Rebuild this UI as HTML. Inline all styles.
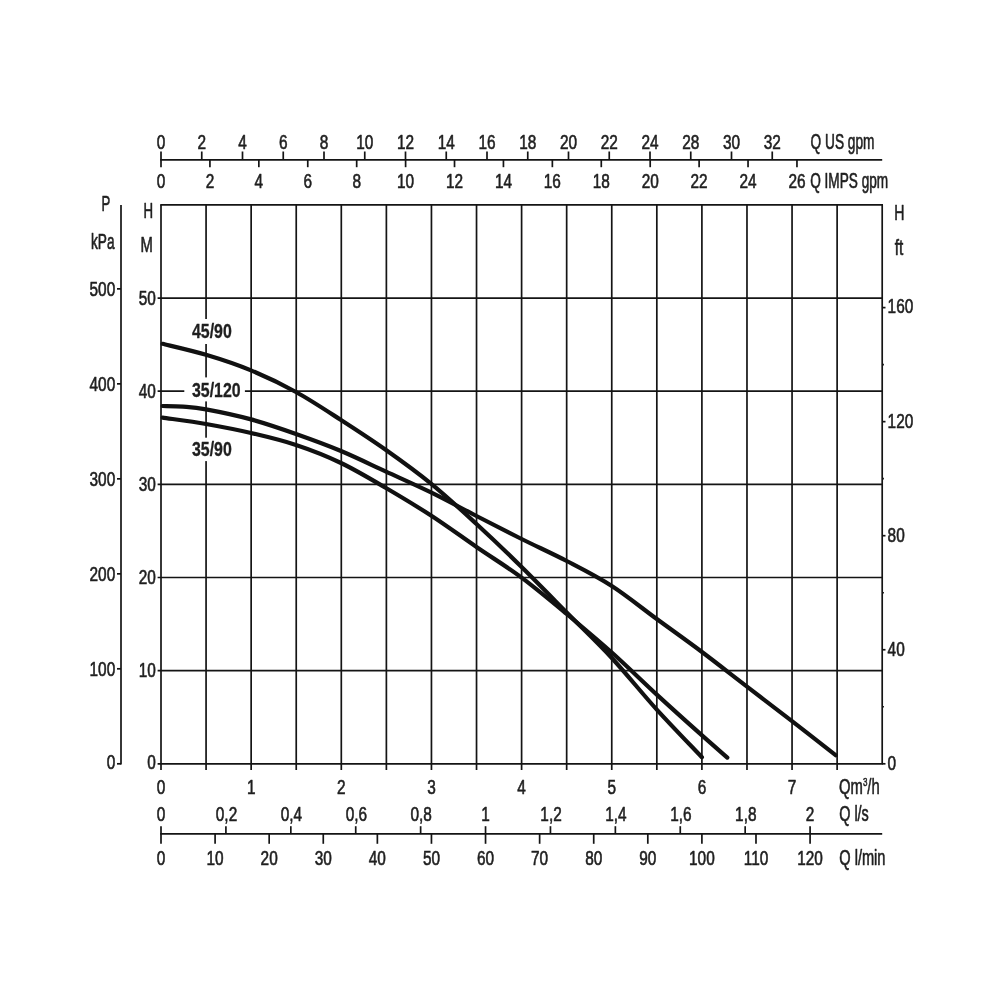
<!DOCTYPE html>
<html><head><meta charset="utf-8"><title>Pump curves</title>
<style>
html,body{margin:0;padding:0;background:#fff}
body{width:1000px;height:1000px;overflow:hidden}
svg{display:block}
text{font-family:"Liberation Sans",sans-serif;fill:#1f1f1f;stroke:#1f1f1f;stroke-width:0.55px;vector-effect:non-scaling-stroke;stroke-linejoin:round}
</style></head><body>
<svg width="1000" height="1000" viewBox="0 0 1000 1000">
<rect width="1000" height="1000" fill="#fff"/>
<line x1="161.00" y1="204.90" x2="161.00" y2="770.00" stroke="#141414" stroke-width="1.7"/>
<line x1="206.07" y1="204.90" x2="206.07" y2="770.00" stroke="#141414" stroke-width="1.7"/>
<line x1="251.15" y1="204.90" x2="251.15" y2="770.00" stroke="#141414" stroke-width="1.7"/>
<line x1="296.23" y1="204.90" x2="296.23" y2="770.00" stroke="#141414" stroke-width="1.7"/>
<line x1="341.30" y1="204.90" x2="341.30" y2="770.00" stroke="#141414" stroke-width="1.7"/>
<line x1="386.38" y1="204.90" x2="386.38" y2="770.00" stroke="#141414" stroke-width="1.7"/>
<line x1="431.45" y1="204.90" x2="431.45" y2="770.00" stroke="#141414" stroke-width="1.7"/>
<line x1="476.53" y1="204.90" x2="476.53" y2="770.00" stroke="#141414" stroke-width="1.7"/>
<line x1="521.60" y1="204.90" x2="521.60" y2="770.00" stroke="#141414" stroke-width="1.7"/>
<line x1="566.67" y1="204.90" x2="566.67" y2="770.00" stroke="#141414" stroke-width="1.7"/>
<line x1="611.75" y1="204.90" x2="611.75" y2="770.00" stroke="#141414" stroke-width="1.7"/>
<line x1="656.83" y1="204.90" x2="656.83" y2="770.00" stroke="#141414" stroke-width="1.7"/>
<line x1="701.90" y1="204.90" x2="701.90" y2="770.00" stroke="#141414" stroke-width="1.7"/>
<line x1="746.98" y1="204.90" x2="746.98" y2="770.00" stroke="#141414" stroke-width="1.7"/>
<line x1="792.05" y1="204.90" x2="792.05" y2="770.00" stroke="#141414" stroke-width="1.7"/>
<line x1="837.12" y1="204.90" x2="837.12" y2="770.00" stroke="#141414" stroke-width="1.7"/>
<line x1="882.20" y1="204.90" x2="882.20" y2="763.80" stroke="#141414" stroke-width="1.7"/>
<line x1="157.60" y1="763.80" x2="883.00" y2="763.80" stroke="#141414" stroke-width="1.7"/>
<line x1="157.60" y1="670.65" x2="882.20" y2="670.65" stroke="#141414" stroke-width="1.7"/>
<line x1="157.60" y1="577.50" x2="882.20" y2="577.50" stroke="#141414" stroke-width="1.7"/>
<line x1="157.60" y1="484.35" x2="882.20" y2="484.35" stroke="#141414" stroke-width="1.7"/>
<line x1="157.60" y1="391.20" x2="882.20" y2="391.20" stroke="#141414" stroke-width="1.7"/>
<line x1="157.60" y1="298.05" x2="882.20" y2="298.05" stroke="#141414" stroke-width="1.7"/>
<line x1="160.20" y1="204.90" x2="883.00" y2="204.90" stroke="#141414" stroke-width="1.7"/>
<line x1="882.20" y1="763.80" x2="885.50" y2="763.80" stroke="#141414" stroke-width="1.7"/>
<line x1="882.20" y1="706.77" x2="883.90" y2="706.77" stroke="#141414" stroke-width="1.7"/>
<line x1="882.20" y1="649.75" x2="885.50" y2="649.75" stroke="#141414" stroke-width="1.7"/>
<line x1="882.20" y1="592.73" x2="883.90" y2="592.73" stroke="#141414" stroke-width="1.7"/>
<line x1="882.20" y1="535.70" x2="885.50" y2="535.70" stroke="#141414" stroke-width="1.7"/>
<line x1="882.20" y1="478.68" x2="883.90" y2="478.68" stroke="#141414" stroke-width="1.7"/>
<line x1="882.20" y1="421.65" x2="885.50" y2="421.65" stroke="#141414" stroke-width="1.7"/>
<line x1="882.20" y1="364.63" x2="883.90" y2="364.63" stroke="#141414" stroke-width="1.7"/>
<line x1="882.20" y1="307.60" x2="885.50" y2="307.60" stroke="#141414" stroke-width="1.7"/>
<line x1="121.00" y1="204.90" x2="121.00" y2="764.60" stroke="#141414" stroke-width="1.7"/>
<line x1="117.00" y1="763.80" x2="121.00" y2="763.80" stroke="#141414" stroke-width="1.7"/>
<line x1="117.00" y1="668.81" x2="121.00" y2="668.81" stroke="#141414" stroke-width="1.7"/>
<line x1="117.00" y1="573.83" x2="121.00" y2="573.83" stroke="#141414" stroke-width="1.7"/>
<line x1="117.00" y1="478.84" x2="121.00" y2="478.84" stroke="#141414" stroke-width="1.7"/>
<line x1="117.00" y1="383.85" x2="121.00" y2="383.85" stroke="#141414" stroke-width="1.7"/>
<line x1="117.00" y1="288.87" x2="121.00" y2="288.87" stroke="#141414" stroke-width="1.7"/>
<rect x="185" y="319" width="52" height="25" fill="#fff"/>
<rect x="184.3" y="377.4" width="60.6" height="24" fill="#fff"/>
<rect x="185" y="437.7" width="52" height="23.4" fill="#fff"/>
<path d="M162.6,343.8 C169.8,345.6 191.3,350.4 206.0,354.8 C220.7,359.2 236.0,364.2 251.0,370.4 C266.0,376.6 281.0,383.7 296.0,392.0 C311.0,400.3 326.0,410.3 341.0,420.0 C356.0,429.7 371.0,439.4 386.0,450.0 C401.0,460.6 415.9,471.3 431.0,483.6 C446.1,495.9 461.4,510.1 476.5,524.0 C491.6,537.9 506.6,552.2 521.6,567.0 C536.6,581.8 551.7,597.3 566.7,612.5 C581.7,627.7 596.8,641.8 611.8,658.0 C626.8,674.2 641.8,693.1 656.8,709.6 C671.8,726.1 694.4,749.3 701.9,757.3" fill="none" stroke="#111" stroke-width="4.2" stroke-linecap="round" stroke-linejoin="round"/>
<path d="M162.6,406.0 C166.0,406.1 175.8,406.0 183.0,406.6 C190.2,407.2 194.7,407.3 206.0,409.4 C217.3,411.5 236.0,415.3 251.0,419.4 C266.0,423.5 281.0,428.7 296.0,434.0 C311.0,439.3 326.0,444.7 341.0,451.0 C356.0,457.3 371.0,464.7 386.0,471.6 C401.0,478.5 415.9,485.0 431.0,492.4 C446.1,499.8 461.4,508.2 476.5,516.0 C491.6,523.8 506.6,531.5 521.6,539.0 C536.6,546.5 551.7,553.2 566.7,561.0 C581.7,568.8 596.8,576.3 611.8,586.0 C626.8,595.7 641.8,608.0 656.8,619.0 C671.8,630.0 687.0,640.7 702.0,652.0 C717.0,663.3 732.0,675.1 747.0,686.6 C762.0,698.1 777.2,709.8 792.0,721.2 C806.8,732.6 828.3,749.5 835.6,755.2" fill="none" stroke="#111" stroke-width="4.2" stroke-linecap="round" stroke-linejoin="round"/>
<path d="M162.6,417.6 C169.8,418.7 191.3,421.4 206.0,424.0 C220.7,426.6 236.0,429.5 251.0,433.0 C266.0,436.5 281.0,440.0 296.0,445.0 C311.0,450.0 326.0,455.8 341.0,463.0 C356.0,470.2 371.0,479.2 386.0,488.0 C401.0,496.8 415.9,505.7 431.0,515.5 C446.1,525.3 461.4,536.6 476.5,547.0 C491.6,557.4 506.6,566.4 521.6,577.6 C536.6,588.8 551.7,601.5 566.7,614.0 C581.7,626.5 596.8,639.1 611.8,652.5 C626.8,665.9 641.8,680.8 656.8,694.6 C671.8,708.4 690.2,724.9 702.0,735.4 C713.8,745.9 723.1,753.9 727.3,757.6" fill="none" stroke="#111" stroke-width="4.2" stroke-linecap="round" stroke-linejoin="round"/>
<text transform="translate(192.00,338.10) scale(0.765,1)" text-anchor="start" font-size="20.8" font-weight="bold" style="stroke-width:0.3px">45/90</text>
<text transform="translate(192.00,396.70) scale(0.765,1)" text-anchor="start" font-size="20.8" font-weight="bold" style="stroke-width:0.3px">35/120</text>
<text transform="translate(192.00,456.00) scale(0.765,1)" text-anchor="start" font-size="20.8" font-weight="bold" style="stroke-width:0.3px">35/90</text>
<line x1="160.20" y1="159.90" x2="882.20" y2="159.90" stroke="#141414" stroke-width="1.7"/>
<line x1="161.00" y1="151.50" x2="161.00" y2="167.20" stroke="#141414" stroke-width="1.7"/>
<text transform="translate(161.00,148.60) scale(0.77,1)" text-anchor="middle" font-size="20">0</text>
<line x1="201.75" y1="151.50" x2="201.75" y2="159.90" stroke="#141414" stroke-width="1.7"/>
<text transform="translate(201.75,148.60) scale(0.77,1)" text-anchor="middle" font-size="20">2</text>
<line x1="242.50" y1="151.50" x2="242.50" y2="159.90" stroke="#141414" stroke-width="1.7"/>
<text transform="translate(242.50,148.60) scale(0.77,1)" text-anchor="middle" font-size="20">4</text>
<line x1="283.25" y1="151.50" x2="283.25" y2="159.90" stroke="#141414" stroke-width="1.7"/>
<text transform="translate(283.25,148.60) scale(0.77,1)" text-anchor="middle" font-size="20">6</text>
<line x1="324.00" y1="151.50" x2="324.00" y2="159.90" stroke="#141414" stroke-width="1.7"/>
<text transform="translate(324.00,148.60) scale(0.77,1)" text-anchor="middle" font-size="20">8</text>
<line x1="364.75" y1="151.50" x2="364.75" y2="159.90" stroke="#141414" stroke-width="1.7"/>
<text transform="translate(364.75,148.60) scale(0.77,1)" text-anchor="middle" font-size="20">10</text>
<line x1="405.50" y1="151.50" x2="405.50" y2="159.90" stroke="#141414" stroke-width="1.7"/>
<text transform="translate(405.50,148.60) scale(0.77,1)" text-anchor="middle" font-size="20">12</text>
<line x1="446.25" y1="151.50" x2="446.25" y2="159.90" stroke="#141414" stroke-width="1.7"/>
<text transform="translate(446.25,148.60) scale(0.77,1)" text-anchor="middle" font-size="20">14</text>
<line x1="487.00" y1="151.50" x2="487.00" y2="159.90" stroke="#141414" stroke-width="1.7"/>
<text transform="translate(487.00,148.60) scale(0.77,1)" text-anchor="middle" font-size="20">16</text>
<line x1="527.75" y1="151.50" x2="527.75" y2="159.90" stroke="#141414" stroke-width="1.7"/>
<text transform="translate(527.75,148.60) scale(0.77,1)" text-anchor="middle" font-size="20">18</text>
<line x1="568.50" y1="151.50" x2="568.50" y2="159.90" stroke="#141414" stroke-width="1.7"/>
<text transform="translate(568.50,148.60) scale(0.77,1)" text-anchor="middle" font-size="20">20</text>
<line x1="609.25" y1="151.50" x2="609.25" y2="159.90" stroke="#141414" stroke-width="1.7"/>
<text transform="translate(609.25,148.60) scale(0.77,1)" text-anchor="middle" font-size="20">22</text>
<line x1="650.00" y1="151.50" x2="650.00" y2="159.90" stroke="#141414" stroke-width="1.7"/>
<text transform="translate(650.00,148.60) scale(0.77,1)" text-anchor="middle" font-size="20">24</text>
<line x1="690.75" y1="151.50" x2="690.75" y2="159.90" stroke="#141414" stroke-width="1.7"/>
<text transform="translate(690.75,148.60) scale(0.77,1)" text-anchor="middle" font-size="20">28</text>
<line x1="731.50" y1="151.50" x2="731.50" y2="159.90" stroke="#141414" stroke-width="1.7"/>
<text transform="translate(731.50,148.60) scale(0.77,1)" text-anchor="middle" font-size="20">30</text>
<line x1="772.25" y1="151.50" x2="772.25" y2="159.90" stroke="#141414" stroke-width="1.7"/>
<text transform="translate(772.25,148.60) scale(0.77,1)" text-anchor="middle" font-size="20">32</text>
<line x1="209.92" y1="159.90" x2="209.92" y2="167.20" stroke="#141414" stroke-width="1.7"/>
<line x1="258.84" y1="159.90" x2="258.84" y2="167.20" stroke="#141414" stroke-width="1.7"/>
<line x1="307.76" y1="159.90" x2="307.76" y2="167.20" stroke="#141414" stroke-width="1.7"/>
<line x1="356.68" y1="159.90" x2="356.68" y2="167.20" stroke="#141414" stroke-width="1.7"/>
<line x1="405.60" y1="159.90" x2="405.60" y2="167.20" stroke="#141414" stroke-width="1.7"/>
<line x1="454.52" y1="159.90" x2="454.52" y2="167.20" stroke="#141414" stroke-width="1.7"/>
<line x1="503.44" y1="159.90" x2="503.44" y2="167.20" stroke="#141414" stroke-width="1.7"/>
<line x1="552.36" y1="159.90" x2="552.36" y2="167.20" stroke="#141414" stroke-width="1.7"/>
<line x1="601.28" y1="159.90" x2="601.28" y2="167.20" stroke="#141414" stroke-width="1.7"/>
<line x1="650.20" y1="159.90" x2="650.20" y2="167.20" stroke="#141414" stroke-width="1.7"/>
<line x1="699.12" y1="159.90" x2="699.12" y2="167.20" stroke="#141414" stroke-width="1.7"/>
<line x1="748.04" y1="159.90" x2="748.04" y2="167.20" stroke="#141414" stroke-width="1.7"/>
<line x1="796.96" y1="159.90" x2="796.96" y2="167.20" stroke="#141414" stroke-width="1.7"/>
<text transform="translate(161.00,188.40) scale(0.77,1)" text-anchor="middle" font-size="20">0</text>
<text transform="translate(209.92,188.40) scale(0.77,1)" text-anchor="middle" font-size="20">2</text>
<text transform="translate(258.84,188.40) scale(0.77,1)" text-anchor="middle" font-size="20">4</text>
<text transform="translate(307.76,188.40) scale(0.77,1)" text-anchor="middle" font-size="20">6</text>
<text transform="translate(356.68,188.40) scale(0.77,1)" text-anchor="middle" font-size="20">8</text>
<text transform="translate(405.60,188.40) scale(0.77,1)" text-anchor="middle" font-size="20">10</text>
<text transform="translate(454.52,188.40) scale(0.77,1)" text-anchor="middle" font-size="20">12</text>
<text transform="translate(503.44,188.40) scale(0.77,1)" text-anchor="middle" font-size="20">14</text>
<text transform="translate(552.36,188.40) scale(0.77,1)" text-anchor="middle" font-size="20">16</text>
<text transform="translate(601.28,188.40) scale(0.77,1)" text-anchor="middle" font-size="20">18</text>
<text transform="translate(650.20,188.40) scale(0.77,1)" text-anchor="middle" font-size="20">20</text>
<text transform="translate(699.12,188.40) scale(0.77,1)" text-anchor="middle" font-size="20">22</text>
<text transform="translate(748.04,188.40) scale(0.77,1)" text-anchor="middle" font-size="20">24</text>
<text transform="translate(796.96,188.40) scale(0.77,1)" text-anchor="middle" font-size="20">26</text>
<text transform="translate(810.60,148.60) scale(0.646,1)" text-anchor="start" font-size="21.2">Q US gpm</text>
<text transform="translate(810.20,188.40) scale(0.643,1)" text-anchor="start" font-size="21.2">Q IMPS gpm</text>
<text transform="translate(101.40,211.00) scale(0.62,1)" text-anchor="start" font-size="21.2">P</text>
<text transform="translate(91.00,249.00) scale(0.645,1)" text-anchor="start" font-size="21.2">kPa</text>
<text transform="translate(143.40,218.20) scale(0.625,1)" text-anchor="start" font-size="21.2">H</text>
<text transform="translate(140.60,252.20) scale(0.7,1)" text-anchor="start" font-size="21.2">M</text>
<text transform="translate(894.20,220.00) scale(0.665,1)" text-anchor="start" font-size="21.2">H</text>
<text transform="translate(894.80,255.40) scale(0.72,1)" text-anchor="start" font-size="21.2">ft</text>
<text transform="translate(115.20,769.10) scale(0.77,1)" text-anchor="end" font-size="20">0</text>
<text transform="translate(115.20,675.71) scale(0.77,1)" text-anchor="end" font-size="20">100</text>
<text transform="translate(115.20,580.73) scale(0.77,1)" text-anchor="end" font-size="20">200</text>
<text transform="translate(115.20,485.74) scale(0.77,1)" text-anchor="end" font-size="20">300</text>
<text transform="translate(115.20,390.75) scale(0.77,1)" text-anchor="end" font-size="20">400</text>
<text transform="translate(115.20,295.77) scale(0.77,1)" text-anchor="end" font-size="20">500</text>
<text transform="translate(155.80,769.20) scale(0.77,1)" text-anchor="end" font-size="20">0</text>
<text transform="translate(155.80,677.15) scale(0.77,1)" text-anchor="end" font-size="20">10</text>
<text transform="translate(155.80,584.00) scale(0.77,1)" text-anchor="end" font-size="20">20</text>
<text transform="translate(155.80,490.85) scale(0.77,1)" text-anchor="end" font-size="20">30</text>
<text transform="translate(155.80,397.70) scale(0.77,1)" text-anchor="end" font-size="20">40</text>
<text transform="translate(155.80,304.55) scale(0.77,1)" text-anchor="end" font-size="20">50</text>
<text transform="translate(887.60,770.40) scale(0.77,1)" text-anchor="start" font-size="20">0</text>
<text transform="translate(887.60,656.35) scale(0.77,1)" text-anchor="start" font-size="20">40</text>
<text transform="translate(887.60,542.30) scale(0.77,1)" text-anchor="start" font-size="20">80</text>
<text transform="translate(887.60,428.25) scale(0.77,1)" text-anchor="start" font-size="20">120</text>
<text transform="translate(887.60,312.70) scale(0.77,1)" text-anchor="start" font-size="20">160</text>
<text transform="translate(161.00,793.80) scale(0.77,1)" text-anchor="middle" font-size="20">0</text>
<text transform="translate(251.15,793.80) scale(0.77,1)" text-anchor="middle" font-size="20">1</text>
<text transform="translate(341.30,793.80) scale(0.77,1)" text-anchor="middle" font-size="20">2</text>
<text transform="translate(431.45,793.80) scale(0.77,1)" text-anchor="middle" font-size="20">3</text>
<text transform="translate(521.60,793.80) scale(0.77,1)" text-anchor="middle" font-size="20">4</text>
<text transform="translate(611.75,793.80) scale(0.77,1)" text-anchor="middle" font-size="20">5</text>
<text transform="translate(701.90,793.80) scale(0.77,1)" text-anchor="middle" font-size="20">6</text>
<text transform="translate(792.05,793.80) scale(0.77,1)" text-anchor="middle" font-size="20">7</text>
<text transform="translate(839.00,793.80) scale(0.7,1)" text-anchor="start" font-size="21.2">Qm<tspan font-size="11.5" dy="-7.5">3</tspan><tspan dy="7.5">/h</tspan></text>
<line x1="160.20" y1="833.80" x2="882.20" y2="833.80" stroke="#141414" stroke-width="1.7"/>
<line x1="161.00" y1="826.20" x2="161.00" y2="843.80" stroke="#141414" stroke-width="1.7"/>
<text transform="translate(161.00,821.20) scale(0.77,1)" text-anchor="middle" font-size="20">0</text>
<line x1="225.91" y1="826.20" x2="225.91" y2="833.80" stroke="#141414" stroke-width="1.7"/>
<text transform="translate(226.51,821.20) scale(0.77,1)" text-anchor="middle" font-size="20">0,2</text>
<line x1="290.82" y1="826.20" x2="290.82" y2="833.80" stroke="#141414" stroke-width="1.7"/>
<text transform="translate(291.42,821.20) scale(0.77,1)" text-anchor="middle" font-size="20">0,4</text>
<line x1="355.72" y1="826.20" x2="355.72" y2="833.80" stroke="#141414" stroke-width="1.7"/>
<text transform="translate(356.32,821.20) scale(0.77,1)" text-anchor="middle" font-size="20">0,6</text>
<line x1="420.63" y1="826.20" x2="420.63" y2="833.80" stroke="#141414" stroke-width="1.7"/>
<text transform="translate(421.23,821.20) scale(0.77,1)" text-anchor="middle" font-size="20">0,8</text>
<line x1="485.54" y1="826.20" x2="485.54" y2="833.80" stroke="#141414" stroke-width="1.7"/>
<text transform="translate(485.54,821.20) scale(0.77,1)" text-anchor="middle" font-size="20">1</text>
<line x1="550.45" y1="826.20" x2="550.45" y2="833.80" stroke="#141414" stroke-width="1.7"/>
<text transform="translate(551.05,821.20) scale(0.77,1)" text-anchor="middle" font-size="20">1,2</text>
<line x1="615.36" y1="826.20" x2="615.36" y2="833.80" stroke="#141414" stroke-width="1.7"/>
<text transform="translate(615.96,821.20) scale(0.77,1)" text-anchor="middle" font-size="20">1,4</text>
<line x1="680.26" y1="826.20" x2="680.26" y2="833.80" stroke="#141414" stroke-width="1.7"/>
<text transform="translate(680.86,821.20) scale(0.77,1)" text-anchor="middle" font-size="20">1,6</text>
<line x1="745.17" y1="826.20" x2="745.17" y2="833.80" stroke="#141414" stroke-width="1.7"/>
<text transform="translate(745.77,821.20) scale(0.77,1)" text-anchor="middle" font-size="20">1,8</text>
<line x1="810.08" y1="826.20" x2="810.08" y2="833.80" stroke="#141414" stroke-width="1.7"/>
<text transform="translate(810.08,821.20) scale(0.77,1)" text-anchor="middle" font-size="20">2</text>
<text transform="translate(161.00,865.00) scale(0.77,1)" text-anchor="middle" font-size="20">0</text>
<line x1="215.09" y1="833.80" x2="215.09" y2="843.80" stroke="#141414" stroke-width="1.7"/>
<text transform="translate(215.09,865.00) scale(0.77,1)" text-anchor="middle" font-size="20">10</text>
<line x1="269.18" y1="833.80" x2="269.18" y2="843.80" stroke="#141414" stroke-width="1.7"/>
<text transform="translate(269.18,865.00) scale(0.77,1)" text-anchor="middle" font-size="20">20</text>
<line x1="323.27" y1="833.80" x2="323.27" y2="843.80" stroke="#141414" stroke-width="1.7"/>
<text transform="translate(323.27,865.00) scale(0.77,1)" text-anchor="middle" font-size="20">30</text>
<line x1="377.36" y1="833.80" x2="377.36" y2="843.80" stroke="#141414" stroke-width="1.7"/>
<text transform="translate(377.36,865.00) scale(0.77,1)" text-anchor="middle" font-size="20">40</text>
<line x1="431.45" y1="833.80" x2="431.45" y2="843.80" stroke="#141414" stroke-width="1.7"/>
<text transform="translate(431.45,865.00) scale(0.77,1)" text-anchor="middle" font-size="20">50</text>
<line x1="485.54" y1="833.80" x2="485.54" y2="843.80" stroke="#141414" stroke-width="1.7"/>
<text transform="translate(485.54,865.00) scale(0.77,1)" text-anchor="middle" font-size="20">60</text>
<line x1="539.63" y1="833.80" x2="539.63" y2="843.80" stroke="#141414" stroke-width="1.7"/>
<text transform="translate(539.63,865.00) scale(0.77,1)" text-anchor="middle" font-size="20">70</text>
<line x1="593.72" y1="833.80" x2="593.72" y2="843.80" stroke="#141414" stroke-width="1.7"/>
<text transform="translate(593.72,865.00) scale(0.77,1)" text-anchor="middle" font-size="20">80</text>
<line x1="647.81" y1="833.80" x2="647.81" y2="843.80" stroke="#141414" stroke-width="1.7"/>
<text transform="translate(647.81,865.00) scale(0.77,1)" text-anchor="middle" font-size="20">90</text>
<line x1="701.90" y1="833.80" x2="701.90" y2="843.80" stroke="#141414" stroke-width="1.7"/>
<text transform="translate(701.90,865.00) scale(0.77,1)" text-anchor="middle" font-size="20">100</text>
<line x1="755.99" y1="833.80" x2="755.99" y2="843.80" stroke="#141414" stroke-width="1.7"/>
<text transform="translate(755.99,865.00) scale(0.77,1)" text-anchor="middle" font-size="20">110</text>
<line x1="810.08" y1="833.80" x2="810.08" y2="843.80" stroke="#141414" stroke-width="1.7"/>
<text transform="translate(810.08,865.00) scale(0.77,1)" text-anchor="middle" font-size="20">120</text>
<text transform="translate(839.20,821.20) scale(0.68,1)" text-anchor="start" font-size="21.2">Q l/s</text>
<text transform="translate(839.20,865.00) scale(0.69,1)" text-anchor="start" font-size="21.2">Q l/min</text>
</svg>
</body></html>
